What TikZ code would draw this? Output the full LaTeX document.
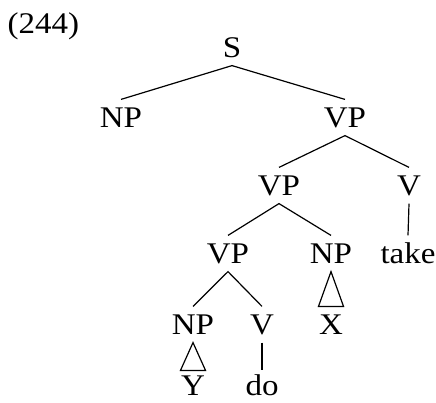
\documentclass[tikz,border=0pt]{standalone}
\usepackage{fontspec}
\setmainfont{Liberation Serif}[FakeStretch=1.1]
\usepackage{tikz}
\usetikzlibrary{positioning,calc}

\begin{document}
\begin{tikzpicture}[x=1pt,y=-1pt,line width=1.2pt]
  % Estilos
  \tikzset{
    cat/.style={anchor=base,inner xsep=0pt,inner ysep=8pt,text height=19pt,text depth=0pt,font=\fontsize{30}{33}\selectfont},
    leaf/.style={cat,inner ysep=3pt,text height=21pt},
    num/.style={anchor=base west,inner sep=0pt,font=\fontsize{30}{33}\selectfont}
  }
  \useasboundingbox (0,0) rectangle (436,402);

  %================= NUMERO =================
  \node[num] (ex) at (7,33) {(244)};

  %================= NODOS =================
  \node[cat] (S)    at (232,57)  {S};
  \node[cat] (NP-a) at (121,127) {NP};
  \node[cat] (VP-a) at (345,127) {VP};
  \node[cat] (VP-b) at (279,195) {VP};
  \node[cat] (V-a)  at (409,195) {V};
  \node[cat] (VP-c) at (228,263) {VP};
  \node[cat] (NP-b) at (331,263) {NP};
  \node[cat] (take) at (408,263) {take};
  \node[cat] (NP-c) at (193,334) {NP};
  \node[cat] (V-b)  at (262,334) {V};
  \node[cat] (X)    at (331,334) {X};
  \node[leaf] (Y)   at (193,395) {Y};
  \node[leaf] (do)  at (262,395) {do};

  %================= RAMAS =================
  \draw (NP-a.north) -- (S.south) -- (VP-a.north);
  \draw (VP-b.north) -- (VP-a.south) -- (V-a.north);
  \draw (VP-c.north) -- (VP-b.south) -- (NP-b.north);
  \draw (NP-c.north) -- (VP-c.south) -- (V-b.north);
  \draw (V-a.south) -- (take.north);
  \draw (V-b.south) -- (do.north);

  % Triangulos
  \draw (NP-b.south) -- (X.north west) -- (X.north east) -- cycle;
  \draw (NP-c.south) -- (Y.north west) -- (Y.north east) -- cycle;
\end{tikzpicture}
\end{document}
